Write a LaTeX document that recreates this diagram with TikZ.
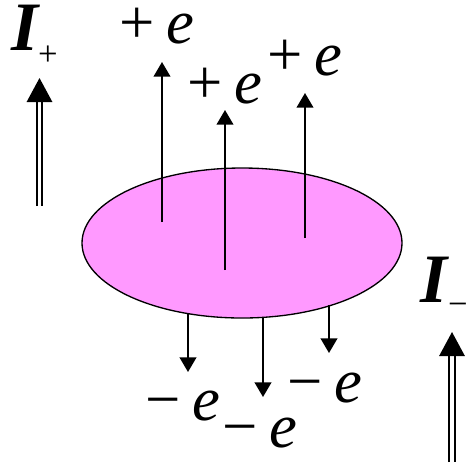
\documentclass[tikz,border=0pt]{standalone}
\usepackage{fontspec}
\setmainfont{Liberation Serif}
\usetikzlibrary{arrows.meta, positioning, shapes.geometric}
\definecolor{diskpink}{HTML}{FF99FF}

\tikzset{
  charge/.style={font=\fontsize{47}{50}\selectfont, anchor=base, inner sep=0pt},
  current/.style={font=\fontsize{52}{54}\selectfont\bfseries\itshape, anchor=base, inner sep=0pt},
  sub/.style={font=\fontsize{26}{28}\selectfont, inner sep=0pt},
  emit/.style={line width=1.5pt, -{Triangle[length=11pt, width=12.5pt]}},
  flow/.style={double, double distance=2.4pt, line width=1.5pt, -{Triangle[length=18pt, width=19pt]}}
}

\begin{document}
\begin{tikzpicture}[x=0.75pt, y=-0.75pt]

% Frame
\useasboundingbox (0,0) rectangle (467,462);

% Disk
\node[ellipse, draw, line width=1pt, fill=diskpink, minimum width=320*0.75pt, minimum height=150*0.75pt] (disk) at (242,243) {};

% Positive charges leaving upward
\coordinate (up1s) at (162,222);  \coordinate (up1e) at (162,62);
\coordinate (up2s) at (225,270);  \coordinate (up2e) at (225,110);
\coordinate (up3s) at (305,238);  \coordinate (up3e) at (305,93);
\draw[emit] (up1s) -- (up1e);
\draw[emit] (up2s) -- (up2e);
\draw[emit] (up3s) -- (up3e);
\node[charge] (pos1) at (157,43) {+\hspace{9pt}\textit{e}};
\node[charge] (pos2) at (225,103) {+\hspace{9pt}\textit{e}};
\node[charge] (pos3) at (305,75) {+\hspace{9pt}\textit{e}};

% Negative charges leaving downward
\coordinate (dn1s) at (188,313);  \coordinate (dn1e) at (188,372);
\coordinate (dn2s) at (263,317);  \coordinate (dn2e) at (263,397);
\coordinate (dn3s) at (329,305);  \coordinate (dn3e) at (329,353);
\draw[emit] (dn1s) -- (dn1e);
\draw[emit] (dn2s) -- (dn2e);
\draw[emit] (dn3s) -- (dn3e);
\node[charge] (neg1) at (183,420) {−\hspace{9pt}\textit{e}};
\node[charge] (neg2) at (260,447) {−\hspace{9pt}\textit{e}};
\node[charge] (neg3) at (325,402) {−\hspace{9pt}\textit{e}};

% Currents
\node[current] (iplus) at (25,50) {I};
\node[sub] (iplussub) at (48,56) {+};
\coordinate (ip1) at (39.5,206);  \coordinate (ip2) at (39.5,78);
\draw[flow] (ip1) -- (ip2);

\node[current] (iminus) at (434,302) {I};
\node[sub] (iminussub) at (458,309) {−};
\coordinate (im1) at (452,462);  \coordinate (im2) at (452,332);
\draw[flow] (im1) -- (im2);

\end{tikzpicture}
\end{document}
